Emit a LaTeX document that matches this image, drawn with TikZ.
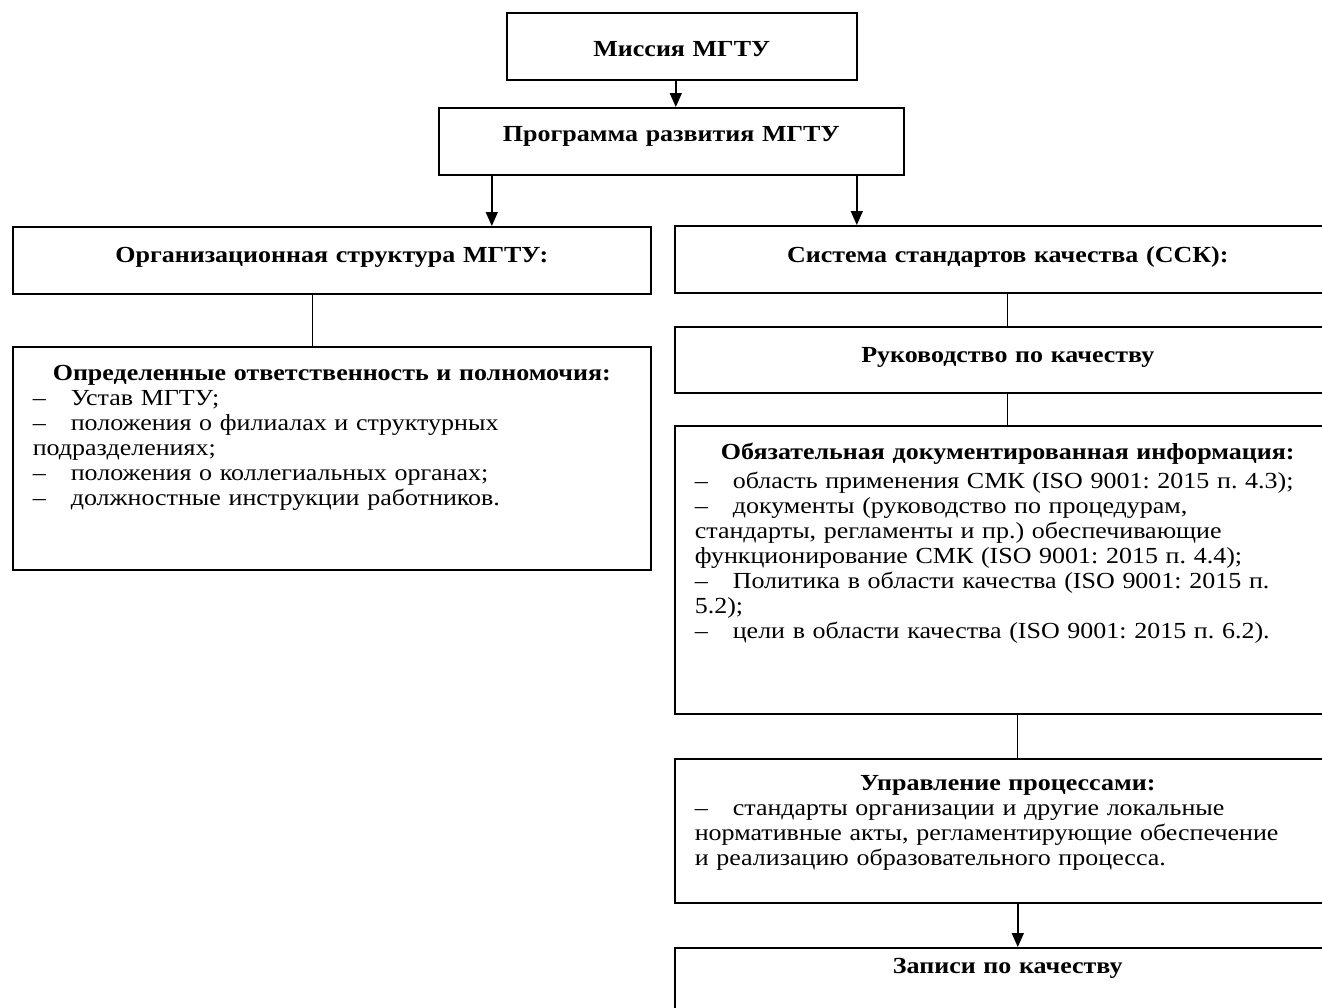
\documentclass[tikz,border=0pt]{standalone}
\usepackage{fontspec}
\setmainfont{Liberation Serif}[FakeStretch=1.13]
\usetikzlibrary{arrows.meta}

\newcommand{\dashitem}{\makebox[38pt][l]{–}}
\newcommand{\boxtitle}[1]{\makebox[\linewidth][c]{\bfseries #1}\\}

\begin{document}
\frenchspacing
\begin{tikzpicture}[x=1pt, y=-1pt,
        box/.style={draw, line width=1.6pt, anchor=north west, inner xsep=20pt, inner ysep=0pt,
            align=left, font=\fontsize{23}{24.9}\selectfont},
        arr/.style={line width=1.6pt, -{Triangle[length=14pt, width=12pt]}},
        lnk/.style={line width=1.3pt}]
        \path[use as bounding box, fill=white] (0,0) rectangle (1322,1007);
        \clip (0,0) rectangle (1322,1007);

        \node [box, align=center, text width=310pt, text height=44pt, text depth=23pt] (Mis) at (506, 12) {\bfseries Миссия МГТУ};
        \node [box, align=center, text width=425pt, text height=34pt, text depth=33pt] (Prg) at (438, 107) {\bfseries Программа развития МГТУ};

        \node [box, align=center, text width=598pt, text height=36pt, text depth=31pt] (Org) at (12, 226) {\bfseries Организационная структура МГТУ:};
        \node [box, text width=598pt, text height=34pt, text depth=189pt] (Otv) at (12, 346) {%
            \boxtitle{Определенные ответственность и полномочия:}
            \dashitem Устав МГТУ;\\
            \dashitem положения о филиалах и структурных\\
            подразделениях;\\
            \dashitem положения о коллегиальных органах;\\
            \dashitem должностные инструкции работников.};

        \node [box, align=center, text width=626pt, text height=37pt, text depth=30pt] (Ssk) at (674, 225) {\bfseries Система стандартов качества (ССК):};
        \node [box, align=center, text width=626pt, text height=36pt, text depth=30pt] (Ruk) at (674, 326) {\bfseries Руководство по качеству};
        \node [box, text width=626pt, text height=34pt, text depth=254pt] (Doc) at (674, 425) {%
            \makebox[\linewidth][c]{\bfseries Обязательная документированная информация:}\\[4pt]
            \dashitem область применения СМК (ISO 9001: 2015 п. 4.3);\\
            \dashitem документы (руководство по процедурам,\\
            стандарты, регламенты и пр.) обеспечивающие\\
            функционирование СМК (ISO 9001: 2015 п. 4.4);\\
            \dashitem Политика в области качества (ISO 9001: 2015 п.\\
            5.2);\\
            \dashitem цели в области качества (ISO 9001: 2015 п. 6.2).};
        \node [box, text width=626pt, text height=32pt, text depth=112pt] (Upr) at (674, 758) {%
            \boxtitle{Управление процессами:}
            \dashitem стандарты организации и другие локальные\\
            нормативные акты, регламентирующие обеспечение\\
            и реализацию образовательного процесса.};
        \node [box, align=center, text width=626pt, text height=26pt, text depth=87pt] (Zap) at (674, 947) {\bfseries Записи по качеству};

        \draw [arr] ([xshift=-6pt]Mis.south) -- ([xshift=-6pt]Mis.south |- Prg.north);
        \draw [arr] ([xshift=-179.5pt]Prg.south) -- ([xshift=-179.5pt]Prg.south |- Org.north);
        \draw [arr] ([xshift=185.5pt]Prg.south) -- ([xshift=185.5pt]Prg.south |- Ssk.north);
        \draw [lnk] ([xshift=-19pt]Org.south) -- ([xshift=-19pt]Org.south |- Otv.north);
        \draw [lnk] (Ssk.south) -- (Ruk.north);
        \draw [lnk] (Ruk.south) -- (Doc.north);
        \draw [lnk] ([xshift=10pt]Doc.south) -- ([xshift=10pt]Doc.south |- Upr.north);
        \draw [arr] ([xshift=10pt]Upr.south) -- ([xshift=10pt]Upr.south |- Zap.north);
    \end{tikzpicture}
\end{document}
